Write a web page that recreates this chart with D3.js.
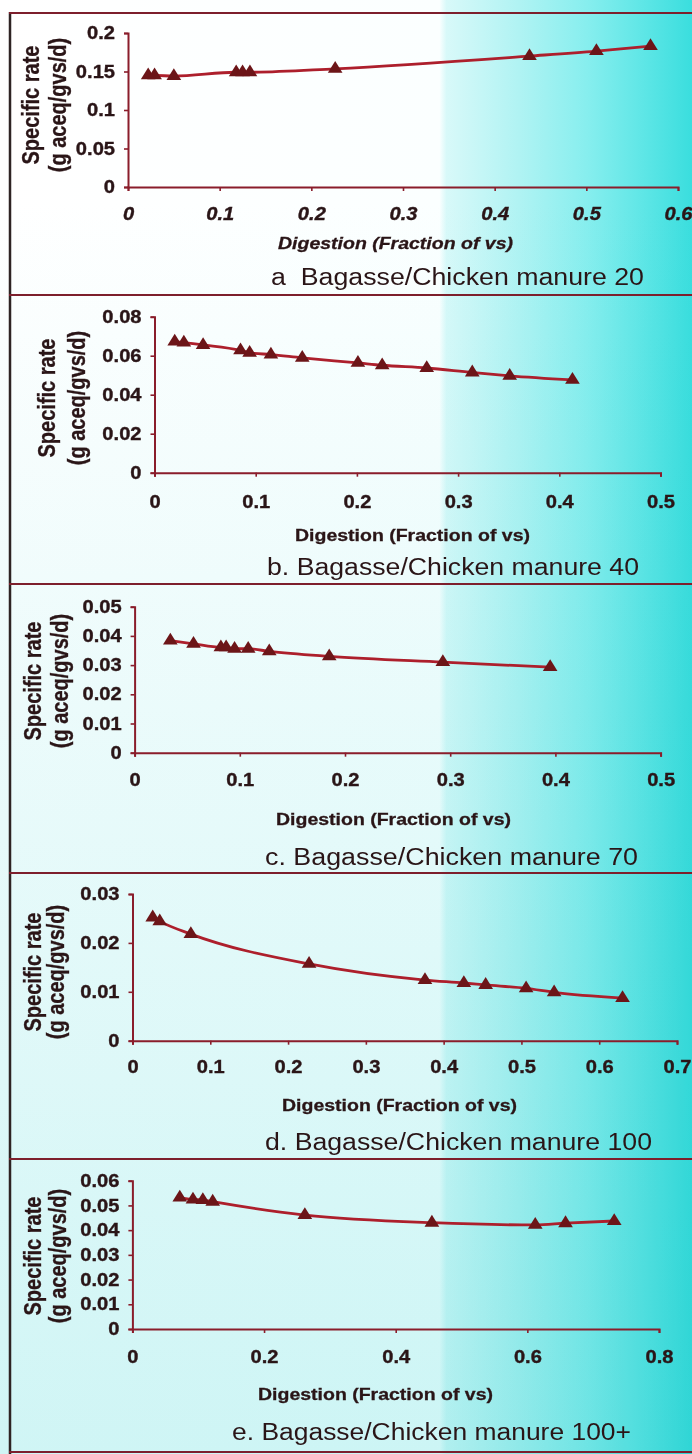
<!DOCTYPE html>
<html>
<head>
<meta charset="utf-8">
<script src="https://cdn.jsdelivr.net/npm/d3@7"></script>
<style>
  html, body { margin: 0; padding: 0; background: #fff; }
  svg { display: block; }
  text { font-family: "Liberation Sans", Arial, Helvetica, sans-serif; fill: #2a1517; }
</style>
</head>
<body>
<svg id="fig" width="692" height="1454"></svg>
<script>
// ---- Panel captions and axis titles ----
const captions = [
  "a  Bagasse/Chicken manure 20",
  "b. Bagasse/Chicken manure 40",
  "c. Bagasse/Chicken manure 70",
  "d. Bagasse/Chicken manure 100",
  "e. Bagasse/Chicken manure 100+"
];
const xTitle = "Digestion (Fraction of vs)";
const yTitleLines = ["Specific rate", "(g aceq/gvs/d)"];

// ---- Series: digestion (fraction of VS) vs specific rate ----
const digA  = [0.022, 0.029, 0.050, 0.118, 0.125, 0.133, 0.226, 0.438, 0.511, 0.570];
const rateA = [0.145, 0.145, 0.144, 0.149, 0.149, 0.149, 0.1535, 0.170, 0.1765, 0.183];

const digB  = [0.020, 0.029, 0.048, 0.085, 0.094, 0.115, 0.146, 0.201, 0.225, 0.269, 0.314, 0.351, 0.413];
const rateB = [0.0672, 0.0667, 0.0655, 0.0627, 0.0615, 0.0606, 0.0589, 0.0563, 0.0551, 0.0537, 0.0514, 0.0497, 0.0476];

const digC  = [0.034, 0.056, 0.082, 0.087, 0.095, 0.108, 0.128, 0.185, 0.293, 0.395];
const rateC = [0.0384, 0.0373, 0.0361, 0.0361, 0.0356, 0.0356, 0.0347, 0.0330, 0.0310, 0.0293];

const digD  = [0.026, 0.035, 0.075, 0.227, 0.376, 0.426, 0.454, 0.506, 0.542, 0.630];
const rateD = [0.0252, 0.0244, 0.0218, 0.0157, 0.0124, 0.0118, 0.0114, 0.0107, 0.0099, 0.0087];

const digE  = [0.072, 0.092, 0.107, 0.122, 0.262, 0.455, 0.612, 0.658, 0.732];
const rateE = [0.0532, 0.0524, 0.0522, 0.0515, 0.0461, 0.0430, 0.0421, 0.0428, 0.0437];

// ---- Tick values and labels ----
const xTicksA = [0, 0.1, 0.2, 0.3, 0.4, 0.5, 0.6];
const xLabelsA = ["0", "0.1", "0.2", "0.3", "0.4", "0.5", "0.6"];
const yTicksA = [0, 0.05, 0.1, 0.15, 0.2];
const yLabelsA = ["0", "0.05", "0.1", "0.15", "0.2"];

const xTicksB = [0, 0.1, 0.2, 0.3, 0.4, 0.5];
const xLabelsB = ["0", "0.1", "0.2", "0.3", "0.4", "0.5"];
const yTicksB = [0, 0.02, 0.04, 0.06, 0.08];
const yLabelsB = ["0", "0.02", "0.04", "0.06", "0.08"];

const xTicksC = [0, 0.1, 0.2, 0.3, 0.4, 0.5];
const xLabelsC = ["0", "0.1", "0.2", "0.3", "0.4", "0.5"];
const yTicksC = [0, 0.01, 0.02, 0.03, 0.04, 0.05];
const yLabelsC = ["0", "0.01", "0.02", "0.03", "0.04", "0.05"];

const xTicksD = [0, 0.1, 0.2, 0.3, 0.4, 0.5, 0.6, 0.7];
const xLabelsD = ["0", "0.1", "0.2", "0.3", "0.4", "0.5", "0.6", "0.7"];
const yTicksD = [0, 0.01, 0.02, 0.03];
const yLabelsD = ["0", "0.01", "0.02", "0.03"];

const xTicksE = [0, 0.2, 0.4, 0.6, 0.8];
const xLabelsE = ["0", "0.2", "0.4", "0.6", "0.8"];
const yTicksE = [0, 0.01, 0.02, 0.03, 0.04, 0.05, 0.06];
const yLabelsE = ["0", "0.01", "0.02", "0.03", "0.04", "0.05", "0.06"];

// ---- Page geometry ----
const W = 692, H = 1454;
const SX = 1.15;                 // horizontal glyph stretch used throughout the figure
const separators = [13, 295, 584, 873, 1159, 1452];

const panels = [
  { dig: digA, rate: rateA, xt: xTicksA, xl: xLabelsA, yt: yTicksA, yl: yLabelsA,
    x0: 128, x1: 678, yTop: 33, yBot: 187, xPad: 16.6, italic: true,
    titleX: 278, titleBase: 249, capX: 271, capW: 373, capBase: 285,
    yCols: [33, 60], yMid: 105 },
  { dig: digB, rate: rateB, xt: xTicksB, xl: xLabelsB, yt: yTicksB, yl: yLabelsB,
    x0: 154.5, x1: 660.5, yTop: 316.7, yBot: 472.7, xPad: 18.9, italic: false,
    titleX: 295, titleBase: 541, capX: 267, capW: 372, capBase: 575,
    yCols: [49, 79], yMid: 398 },
  { dig: digC, rate: rateC, xt: xTicksC, xl: xLabelsC, yt: yTicksC, yl: yLabelsC,
    x0: 134.6, x1: 660.6, yTop: 606.7, yBot: 752.7, xPad: 16.9, italic: false,
    titleX: 276, titleBase: 825, capX: 265, capW: 373, capBase: 865,
    yCols: [35, 62], yMid: 681 },
  { dig: digD, rate: rateD, xt: xTicksD, xl: xLabelsD, yt: yTicksD, yl: yLabelsD,
    x0: 132.5, x1: 677, yTop: 894, yBot: 1040.7, xPad: 15.9, italic: false,
    titleX: 282, titleBase: 1111, capX: 265, capW: 387, capBase: 1150,
    yCols: [35, 58], yMid: 972 },
  { dig: digE, rate: rateE, xt: xTicksE, xl: xLabelsE, yt: yTicksE, yl: yLabelsE,
    x0: 132.4, x1: 659, yTop: 1180.7, yBot: 1329, xPad: 17.6, italic: false,
    titleX: 258, titleBase: 1400, capX: 232, capW: 399, capBase: 1440,
    yCols: [35, 60], yMid: 1256 }
];

const INK = "#2a1517";
const AXIS = "#8a1d2b";
const LINE = "#ad1f2c";
const MARK = "#6c1518";

const svg = d3.select("#fig");
const defs = svg.append("defs");

// Background: white on the left, turning cyan towards the right edge
const gh = defs.append("linearGradient").attr("id", "bgH")
  .attr("x1", 0).attr("x2", 1).attr("y1", 0).attr("y2", 0);
[[0, "#ffffff"], [0.635, "#fbffff"], [0.645, "#d8f9f9"], [0.75, "#b0f3f3"],
 [0.85, "#86eeee"], [0.93, "#5ee6e6"], [1, "#3adede"]]
  .forEach(([o, c]) => gh.append("stop").attr("offset", o).attr("stop-color", c));

// A faint cyan tint that deepens down the page
const gv = defs.append("linearGradient").attr("id", "bgV")
  .attr("x1", 0).attr("x2", 0).attr("y1", 0).attr("y2", 1);
[[0, "#ffffff"], [0.14, "#ffffff"], [1, "#d0f5f5"]]
  .forEach(([o, c]) => gv.append("stop").attr("offset", o).attr("stop-color", c));

svg.append("rect").attr("width", W).attr("height", H).attr("fill", "url(#bgH)");
svg.append("rect").attr("width", W).attr("height", H).attr("fill", "url(#bgV)")
  .style("mix-blend-mode", "multiply");

// Frame: left rule and the horizontal rules between panels
svg.append("line").attr("x1", 10).attr("x2", 10).attr("y1", 12).attr("y2", H)
  .attr("stroke", "#2e2323").attr("stroke-width", 2.5);
svg.selectAll("line.sep").data(separators).join("line").attr("class", "sep")
  .attr("x1", 9).attr("x2", W).attr("y1", d => d).attr("y2", d => d)
  .attr("stroke", "#7d1f2c").attr("stroke-width", 2.2);

panels.forEach((p, i) => {
  const g = svg.append("g");
  const x = d3.scaleLinear().domain([0, p.xt[p.xt.length - 1]]).range([p.x0, p.x1]);
  const y = d3.scaleLinear().domain([0, p.yt[p.yt.length - 1]]).range([p.yBot, p.yTop]);

  // Axes
  const yAxis = d3.axisLeft(y).tickValues(p.yt).tickFormat((d, k) => p.yl[k])
    .tickSize(4).tickPadding(7.3);
  const xAxis = d3.axisBottom(x).tickValues(p.xt).tickFormat((d, k) => p.xl[k])
    .tickSize(4).tickPadding(p.xPad);

  const gy = g.append("g").attr("transform", `translate(${p.x0},0)`).call(yAxis);
  const gx = g.append("g").attr("transform", `translate(0,${p.yBot})`).call(xAxis);

  [gx, gy].forEach(ax => {
    ax.select(".domain").attr("stroke", AXIS).attr("stroke-width", 2);
    ax.selectAll(".tick line").attr("stroke", AXIS).attr("stroke-width", 1.6);
    ax.selectAll(".tick text")
      .attr("fill", INK).attr("stroke", INK).attr("stroke-width", 0.35)
      .style("font-size", "17.5px").style("font-weight", "bold")
      .attr("transform", `scale(${SX},1)`);
  });
  if (p.italic) gx.selectAll(".tick text").style("font-style", "italic");
  gx.selectAll(".tick text").attr("x", 0);

  // Data line and triangle markers
  const pts = p.dig.map((d, k) => [d, p.rate[k]]);
  const line = d3.line().x(d => x(d[0])).y(d => y(d[1])).curve(d3.curveMonotoneX);
  g.append("path").attr("d", line(pts)).attr("fill", "none")
    .attr("stroke", LINE).attr("stroke-width", 2.8).attr("stroke-linejoin", "round");

  const tri = d3.symbol().type(d3.symbolTriangle).size(80);
  g.selectAll("path.mk").data(pts).join("path").attr("class", "mk")
    .attr("d", tri)
    .attr("transform", d => `translate(${x(d[0])},${y(d[1])}) scale(1.08,1)`)
    .attr("fill", MARK);

  // X-axis title
  g.append("text")
    .attr("x", p.titleX).attr("y", p.titleBase)
    .attr("textLength", 235).attr("lengthAdjust", "spacingAndGlyphs")
    .attr("stroke", INK).attr("stroke-width", 0.3)
    .style("font-size", "17px").style("font-weight", "bold")
    .style("font-style", p.italic ? "italic" : "normal")
    .text(xTitle);

  // Y-axis title on two rotated lines
  yTitleLines.forEach((t, k) => {
    g.append("text")
      .attr("transform", `translate(${p.yCols[k]},${p.yMid}) scale(${SX},1) rotate(-90)`)
      .attr("text-anchor", "middle").attr("dy", "0.27em")
      .attr("stroke", INK).attr("stroke-width", 0.3)
      .style("font-size", "20px").style("font-weight", "bold")
      .text(t);
  });

  // Panel caption
  g.append("text")
    .attr("x", p.capX).attr("y", p.capBase)
    .attr("textLength", p.capW).attr("lengthAdjust", "spacingAndGlyphs")
    .style("font-size", "23px").style("white-space", "pre")
    .text(captions[i]);
});
</script>
</body>
</html>
